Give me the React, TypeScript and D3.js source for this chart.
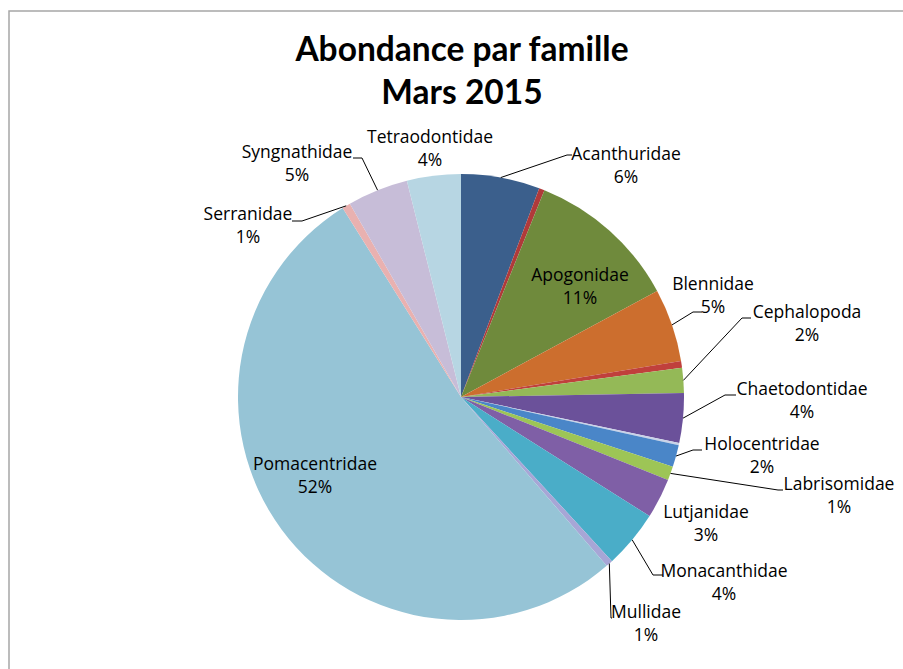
import React, { useEffect, useRef } from "react";
import * as d3 from "d3";

// familles dans l'ordre du tableur (les petites tranches sans étiquette ont un nom vide)
const families = [
  "Acanthuridae",
  "",
  "Apogonidae",
  "Blennidae",
  "",
  "Cephalopoda",
  "Chaetodontidae",
  "",
  "Holocentridae",
  "Labrisomidae",
  "Lutjanidae",
  "Monacanthidae",
  "Mullidae",
  "Pomacentridae",
  "Serranidae",
  "Syngnathidae",
  "Tetraodontidae",
];

// part de l'abondance (%)
const shares = [5.7, 0.4, 11.0, 5.3, 0.5, 1.8, 3.6, 0.15, 1.6, 1.0, 2.9, 4.2, 0.5, 52.4, 0.6, 4.4, 3.9];

const percentLabels = ["6%", "", "11%", "5%", "", "2%", "4%", "", "2%", "1%", "3%", "4%", "1%", "52%", "1%", "5%", "4%"];

const sliceColors = [
  "#3b5f8c",
  "#b03a3a",
  "#6f8a3c",
  "#cc6e2e",
  "#c0403c",
  "#94b957",
  "#6b519a",
  "#c9d3e8",
  "#4a86c8",
  "#9dc556",
  "#7f5fa6",
  "#4aadc8",
  "#a7a6d6",
  "#96c4d6",
  "#e9b1b0",
  "#c7bdd8",
  "#b7d6e3",
];

// placement des étiquettes (centre du texte, ligne de base) et coude des lignes de rappel
type Place = { x: number; y: number; elbow?: [number, number]; end?: [number, number] };
const labelLayout: Record<string, Place> = {
  Acanthuridae: { x: 626, y: 160, elbow: [567, 155], end: [572, 155] },
  Apogonidae: { x: 580, y: 281 },
  Blennidae: { x: 713, y: 290, elbow: [693, 312], end: [702, 312] },
  Cephalopoda: { x: 807, y: 318, elbow: [742, 318], end: [751, 318] },
  Chaetodontidae: { x: 802, y: 395, elbow: [725, 395], end: [736, 395] },
  Holocentridae: { x: 762, y: 450, elbow: [693, 450], end: [702, 450] },
  Labrisomidae: { x: 839, y: 490, elbow: [778, 490], end: [783, 490] },
  Lutjanidae: { x: 706, y: 518 },
  Monacanthidae: { x: 724, y: 577, elbow: [653, 575], end: [663, 575] },
  Mullidae: { x: 646, y: 618, elbow: [611, 618], end: [612, 618] },
  Pomacentridae: { x: 315, y: 470 },
  Serranidae: { x: 248, y: 220, elbow: [302, 221], end: [292, 221] },
  Syngnathidae: { x: 297, y: 158, elbow: [362, 158], end: [353, 158] },
  Tetraodontidae: { x: 430, y: 143 },
};

const App: React.FC = () => {
  const svgRef = useRef<SVGSVGElement>(null);

  useEffect(() => {
    if (!svgRef.current) return;

    const width = 903;
    const height = 669;
    const cx = 461;
    const cy = 397;
    const radius = 223;

    const svg = d3.select(svgRef.current);
    svg.selectAll("*").remove();
    svg.attr("width", width).attr("height", height);

    svg
      .append("rect")
      .attr("x", 9)
      .attr("y", 11)
      .attr("width", 900)
      .attr("height", 670)
      .attr("fill", "white")
      .attr("stroke", "#a6a6a6")
      .attr("stroke-width", 1.5);

    const title = svg
      .append("text")
      .attr("text-anchor", "middle")
      .style("font-family", "Lato, 'Open Sans', sans-serif")
      .style("font-weight", "bold")
      .style("font-size", "33.5px")
      .attr("fill", "#000");
    title.append("tspan").attr("x", 462).attr("y", 61).text("Abondance par famille");
    title.append("tspan").attr("x", 462).attr("y", 104).text("Mars 2015");

    const items = families.map((name, i) => ({
      name,
      value: shares[i],
      pct: percentLabels[i],
      color: sliceColors[i],
    }));

    const pie = d3
      .pie<(typeof items)[number]>()
      .sort(null)
      .value((d) => d.value);

    const arcs = pie(items);

    const arc = d3
      .arc<d3.PieArcDatum<(typeof items)[number]>>()
      .innerRadius(0)
      .outerRadius(radius);

    const edge = d3
      .arc<d3.PieArcDatum<(typeof items)[number]>>()
      .innerRadius(radius)
      .outerRadius(radius);

    const g = svg.append("g").attr("transform", `translate(${cx},${cy})`);

    g.selectAll("path.slice")
      .data(arcs)
      .enter()
      .append("path")
      .attr("class", "slice")
      .attr("d", arc)
      .attr("fill", (d) => d.data.color);

    // lignes de rappel
    arcs.forEach((d) => {
      const place = labelLayout[d.data.name];
      if (!place || !place.elbow || !place.end) return;
      const [sx, sy] = edge.centroid(d);
      const pts: [number, number][] = [
        [sx + cx, sy + cy],
        place.elbow,
        place.end,
      ];
      svg
        .append("path")
        .attr("d", d3.line()(pts))
        .attr("fill", "none")
        .attr("stroke", "#000")
        .attr("stroke-width", 1);
    });

    // étiquettes
    arcs.forEach((d) => {
      const place = labelLayout[d.data.name];
      if (!place) return;
      const t = svg
        .append("text")
        .attr("text-anchor", "middle")
        .style("font-family", "'Open Sans', sans-serif")
        .style("font-size", "17.5px")
        .attr("fill", "#000");
      t.append("tspan").attr("x", place.x).attr("y", place.y).text(d.data.name);
      t.append("tspan").attr("x", place.x).attr("y", place.y + 23).text(d.data.pct);
    });
  }, []);

  return (
    <svg
      ref={svgRef}
      style={{ position: "absolute", left: 0, top: 0, display: "block" }}
    ></svg>
  );
};

export default App;
